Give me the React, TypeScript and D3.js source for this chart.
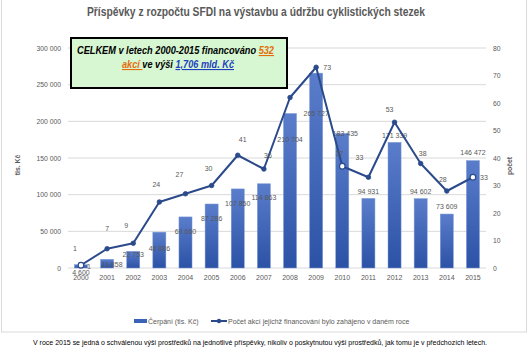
import React from "react";
import * as d3 from "d3";

const years = ["2000","2001","2002","2003","2004","2005","2006","2007","2008","2009","2010","2011","2012","2013","2014","2015"];
const cerpani = [4600, 11858, 22753, 48886, 69660, 87286, 107850, 114863, 210704, 265727, 183435, 94931, 171339, 94602, 73609, 146472];
const pocet = [1, 7, 9, 24, 27, 30, 41, 36, 62, 73, 37, 33, 53, 38, 28, 33];
const showPocetLabel = [true, true, true, true, true, true, true, true, false, true, true, true, true, true, true, true];
const hollowMarkers = ["2000", "2010", "2015"];
const leftTicks = [0, 50000, 100000, 150000, 200000, 250000, 300000];
const rightTicks = [0, 10, 20, 30, 40, 50, 60, 70, 80];

// label placement (styling): offsets from bar top / line point
const barLabelDx = [0, 5, 0, 0, 0, 0, 0, 0, 0, 0, 3, 0, 0, 0, 0, 0];
const barLabelDy = [7.5, 4.7, 2.7, 16, 15, 15, 15, 14, 26.5, 40, 0, -7, -7, -7.6, -8, -7.6];
const lineLabelDx = [-6, 0, -7, -3, -6, -3, 5, 4, 0, 11, -3, -9, -5, 2, -4, 11];
const lineLabelDy = [-17, -20, -18, -18, -19, -17.5, -16, -14, -14, 0, -13, -20, -13, -10, -12, 0];

const fmt = (v: number) => d3.format(",")(v).replace(/,/g, " ");

export default function App() {
  const W = 530, H = 352;
  const x = d3.scaleBand<string>().domain(years).range([67.9, 486]).paddingInner(0.5).paddingOuter(0.25);
  const yL = d3.scaleLinear().domain([0, 300000]).range([268, 48]);
  const yR = d3.scaleLinear().domain([0, 80]).range([268, 48]);
  const cx = (y: string) => (x(y) as number) + x.bandwidth() / 2;
  const line = d3.line<number>().x((_, i) => cx(years[i])).y((d) => yR(d));
  const lineColor = "#2b4a8b";
  const gray = "#595959";
  const font = "'Liberation Sans', Arial, sans-serif";

  return (
    <svg width={W} height={H} style={{ position: "absolute", left: 0, top: 0, background: "#fff" }} fontFamily={font}>
      <defs>
        <linearGradient id="barGrad" x1="0" y1="0" x2="0" y2="1">
          <stop offset="0" stopColor="#5a7dcb" />
          <stop offset="1" stopColor="#2c52a6" />
        </linearGradient>
      </defs>
      <rect x={1.5} y={-2} width={525} height={334} fill="#fff" stroke="#d9d9d9" strokeWidth={1} />
      <text x={256} y={16} textAnchor="middle" fontSize={12} fontWeight="bold" fill={gray} textLength={338} lengthAdjust="spacingAndGlyphs">
        Příspěvky z rozpočtu SFDI na výstavbu a údržbu cyklistických stezek
      </text>
      {leftTicks.map((t) => (
        <g key={"g" + t}>
          <line x1={68} x2={486} y1={yL(t)} y2={yL(t)} stroke="#d9d9d9" strokeWidth={1} />
          <text x={61} y={yL(t) + 2.5} textAnchor="end" fontSize={6.8} fill={gray}>{fmt(t)}</text>
        </g>
      ))}
      {rightTicks.map((t) => (
        <text key={"r" + t} x={493} y={yR(t) + 2.5} fontSize={6.8} fill={gray}>{t}</text>
      ))}
      <text transform="translate(20,165) rotate(-90)" textAnchor="middle" fontSize={6.8} fontWeight="bold" fill={gray}>tis. Kč</text>
      <text transform="translate(512,166) rotate(-90)" textAnchor="middle" fontSize={6.8} fontWeight="bold" fill={gray}>počet</text>
      {years.map((yr, i) => (
        <rect key={"b" + yr} x={x(yr)} y={yL(cerpani[i])} width={x.bandwidth()} height={268 - yL(cerpani[i])} fill="url(#barGrad)" stroke="#7f9bd6" strokeWidth={0.5} />
      ))}
      {years.map((yr) => (
        <text key={"x" + yr} x={cx(yr)} y={279.5} textAnchor="middle" fontSize={7} fill={gray}>{yr}</text>
      ))}
      {years.map((yr, i) => (
        <text key={"bl" + yr} x={cx(yr) + barLabelDx[i]} y={yL(cerpani[i]) + barLabelDy[i] + 2.5} textAnchor="middle" fontSize={7} fill={gray}>{fmt(cerpani[i])}</text>
      ))}
      <path d={line(pocet) || ""} fill="none" stroke={lineColor} strokeWidth={2} strokeLinejoin="round" />
      {years.map((yr, i) => {
        const hollow = hollowMarkers.includes(yr);
        return (
          <circle key={"m" + yr} cx={cx(yr)} cy={yR(pocet[i])} r={hollow ? 2.8 : 2.3} fill={hollow ? "#fff" : lineColor} stroke={lineColor} strokeWidth={hollow ? 1.2 : 0.8} />
        );
      })}
      {years.map((yr, i) =>
        showPocetLabel[i] ? (
          <text key={"ll" + yr} x={cx(yr) + lineLabelDx[i]} y={yR(pocet[i]) + lineLabelDy[i] + 2.5} textAnchor="middle" fontSize={7} fill={gray}>{pocet[i]}</text>
        ) : null
      )}
      <text x={cx(years[0]) + 8} y={yR(pocet[0]) + 3.5} textAnchor="middle" fontSize={7} fill={gray}>{pocet[0]}</text>

      <rect x={71} y={38} width={216} height={50} fill="#d6f7d2" stroke="#000" strokeWidth={2} />
      <text x={175.5} y={54} textAnchor="middle" fontSize={11} fontWeight="bold" fontStyle="italic" fill="#000" textLength={197} lengthAdjust="spacingAndGlyphs">
        CELKEM v letech 2000-2015 financováno <tspan fill="#e46c0a" textDecoration="underline" style={{ textDecoration: "underline" }}>532</tspan>
      </text>
      <text x={178} y={68} textAnchor="middle" fontSize={11} fontWeight="bold" fontStyle="italic" fill="#000" textLength={112} lengthAdjust="spacingAndGlyphs">
        <tspan fill="#e46c0a" style={{ textDecoration: "underline" }}>akcí </tspan>ve výši <tspan fill="#1f3fbf" style={{ textDecoration: "underline" }}>1,706 mld. Kč</tspan>
      </text>

      <rect x={134} y={319} width={13} height={4} fill="#3d63b8" />
      <text x={148} y={323.5} fontSize={7} fill={gray}>Čerpání (tis. Kč)</text>
      <line x1={211} x2={227} y1={321} y2={321} stroke={lineColor} strokeWidth={2} />
      <circle cx={219} cy={321} r={2.2} fill={lineColor} />
      <text x={228} y={323.5} fontSize={7} fill={gray}>Počet akcí jejichž financování bylo zahájeno v daném roce</text>

      <text x={260} y={345} textAnchor="middle" fontSize={7.6} fill="#000" textLength={454} lengthAdjust="spacingAndGlyphs">
        V roce 2015 se jedná o schválenou výši prostředků na jednotlivé příspěvky, nikoliv o poskytnutou výši prostředků, jak tomu je v předchozích letech.
      </text>
    </svg>
  );
}
